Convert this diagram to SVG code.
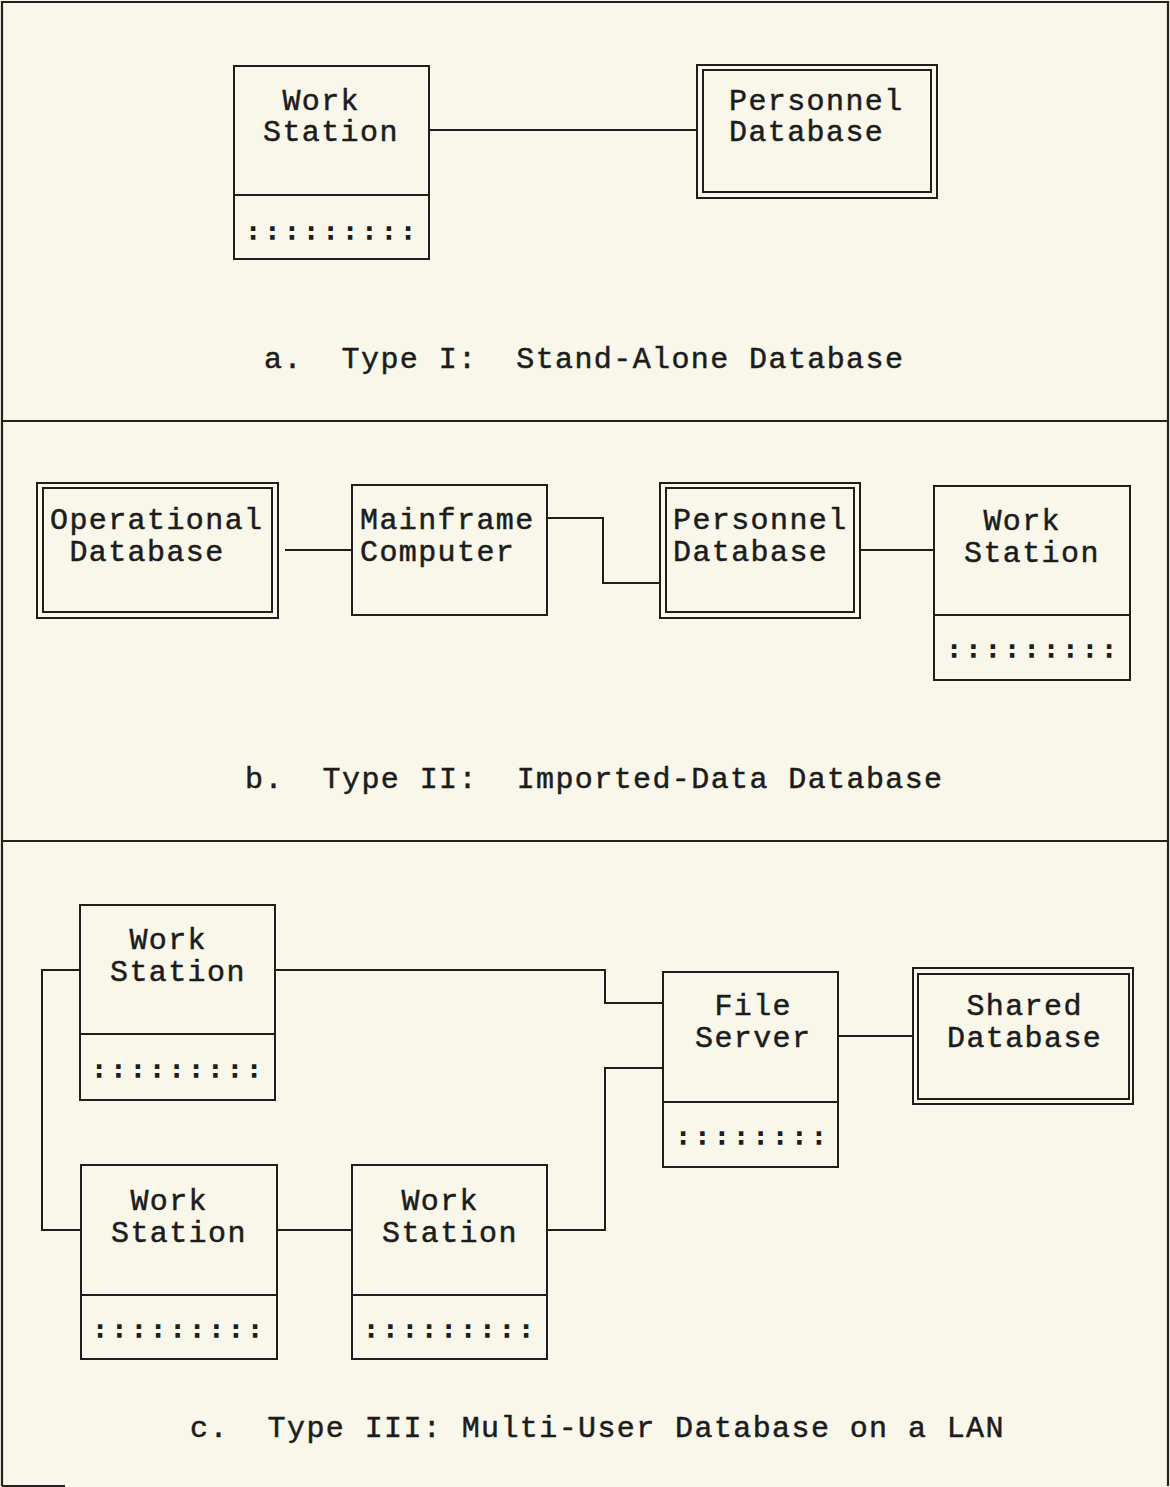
<svg xmlns="http://www.w3.org/2000/svg" width="1170" height="1487" viewBox="0 0 1170 1487">
  <style>
    .bg { fill: #f8f7ea; }
    .frame { fill: none; stroke: #222; stroke-width: 2.2; }
    .box { fill: none; stroke: #1e1e1e; stroke-width: 2; }
    .wire { fill: none; stroke: #1e1e1e; stroke-width: 2; }
    .lbl { font-family: "Liberation Mono", "Courier New", monospace; font-size: 30px; letter-spacing: 1.4px; fill: #1c1c1c; stroke: #1c1c1c; stroke-width: 0.5px; }
    .dots { font-family: "Liberation Mono", "Courier New", monospace; font-size: 22px; font-weight: bold; letter-spacing: 6.2px; fill: #1c1c1c; stroke: #1c1c1c; stroke-width: 1.3px; }
  </style>

  <rect class="bg" x="0" y="0" width="1170" height="1487"/>

  <!-- outer frame and panel dividers -->
  <g id="frame">
    <path class="frame" d="M2,1486 V2 H1168 V1486"/>
    <path class="frame" d="M2,1486 H65"/>
    <line class="frame" x1="2" y1="421" x2="1168" y2="421"/>
    <line class="frame" x1="2" y1="841" x2="1168" y2="841"/>
  </g>

  <!-- connectors -->
  <g id="connectors">
    <!-- panel a -->
    <path class="wire" d="M429,130 H697"/>
    <!-- panel b -->
    <path class="wire" d="M285,550 H352"/>
    <path class="wire" d="M547,518 H603 V583 H660"/>
    <path class="wire" d="M860,550 H935"/>
    <!-- panel c -->
    <path class="wire" d="M80,970 H42 V1230 H81"/>
    <path class="wire" d="M275,970 H605 V1003 H663"/>
    <path class="wire" d="M277,1230 H352"/>
    <path class="wire" d="M547,1230 H605 V1068 H663"/>
    <path class="wire" d="M838,1036 H914"/>
  </g>

  <!-- panel a: stand-alone -->
  <g id="ws-a">
    <rect class="box" x="234" y="66" width="195" height="193"/>
    <line class="box" x1="234" y1="195" x2="429" y2="195"/>
    <text class="lbl" x="282.4" y="110">Work</text>
    <text class="lbl" x="263" y="141">Station</text>
    <text class="dots" x="246.4" y="239">:::::::::</text>
  </g>
  <g id="pdb-a">
    <rect class="box" x="697" y="65" width="240" height="133"/>
    <rect class="box" x="703" y="70" width="228" height="122"/>
    <text class="lbl" x="729" y="110">Personnel</text>
    <text class="lbl" x="729" y="141">Database</text>
  </g>
  <g id="title-a">
    <text class="lbl" x="264" y="368" xml:space="preserve">a.  Type I:  Stand-Alone Database</text>
  </g>

  <!-- panel b: imported data -->
  <g id="opdb-b">
    <rect class="box" x="37" y="483" width="241" height="135"/>
    <rect class="box" x="43" y="488" width="229" height="124"/>
    <text class="lbl" x="50" y="529">Operational</text>
    <text class="lbl" x="69.4" y="561">Database</text>
  </g>
  <g id="mainframe-b">
    <rect class="box" x="352" y="485" width="195" height="130"/>
    <text class="lbl" x="360" y="529">Mainframe</text>
    <text class="lbl" x="360" y="561">Computer</text>
  </g>
  <g id="pdb-b">
    <rect class="box" x="660" y="483" width="200" height="135"/>
    <rect class="box" x="666" y="488" width="188" height="124"/>
    <text class="lbl" x="673" y="529">Personnel</text>
    <text class="lbl" x="673" y="561">Database</text>
  </g>
  <g id="ws-b">
    <rect class="box" x="934" y="486" width="196" height="194"/>
    <line class="box" x1="934" y1="615" x2="1130" y2="615"/>
    <text class="lbl" x="983.4" y="530">Work</text>
    <text class="lbl" x="964" y="562">Station</text>
    <text class="dots" x="947.4" y="657">:::::::::</text>
  </g>
  <g id="title-b">
    <text class="lbl" x="245" y="788" xml:space="preserve">b.  Type II:  Imported-Data Database</text>
  </g>

  <!-- panel c: multi-user on a LAN -->
  <g id="ws1-c">
    <rect class="box" x="80" y="905" width="195" height="195"/>
    <line class="box" x1="80" y1="1034" x2="275" y2="1034"/>
    <text class="lbl" x="129.4" y="949">Work</text>
    <text class="lbl" x="110" y="981">Station</text>
    <text class="dots" x="92.4" y="1077">:::::::::</text>
  </g>
  <g id="ws2-c">
    <rect class="box" x="81" y="1165" width="196" height="194"/>
    <line class="box" x1="81" y1="1295" x2="277" y2="1295"/>
    <text class="lbl" x="130.4" y="1210">Work</text>
    <text class="lbl" x="111" y="1242">Station</text>
    <text class="dots" x="93.4" y="1337">:::::::::</text>
  </g>
  <g id="ws3-c">
    <rect class="box" x="352" y="1165" width="195" height="194"/>
    <line class="box" x1="352" y1="1295" x2="547" y2="1295"/>
    <text class="lbl" x="401.4" y="1210">Work</text>
    <text class="lbl" x="382" y="1242">Station</text>
    <text class="dots" x="364.4" y="1337">:::::::::</text>
  </g>
  <g id="fileserver-c">
    <rect class="box" x="663" y="972" width="175" height="195"/>
    <line class="box" x1="663" y1="1102" x2="838" y2="1102"/>
    <text class="lbl" x="714.4" y="1015">File</text>
    <text class="lbl" x="695" y="1047">Server</text>
    <text class="dots" x="676.4" y="1144">::::::::</text>
  </g>
  <g id="shareddb-c">
    <rect class="box" x="913" y="968" width="220" height="136"/>
    <rect class="box" x="918" y="974" width="211" height="125"/>
    <text class="lbl" x="966.4" y="1015">Shared</text>
    <text class="lbl" x="947" y="1047">Database</text>
  </g>
  <g id="title-c">
    <text class="lbl" x="190" y="1437" xml:space="preserve">c.  Type III: Multi-User Database on a LAN</text>
  </g>
</svg>
